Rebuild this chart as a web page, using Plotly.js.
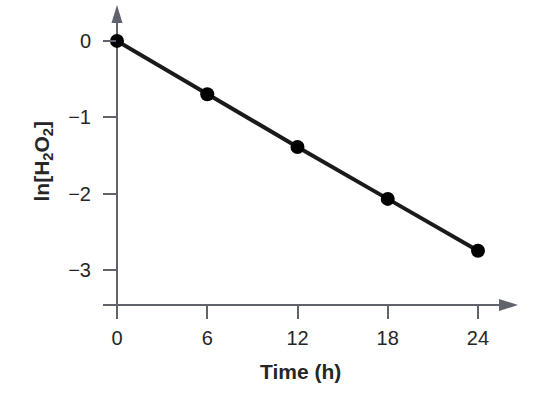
<!DOCTYPE html>
<html>
<head>
<meta charset="utf-8">
<script src="https://cdn.plot.ly/plotly-3.0.1.min.js"></script>
<style>html,body{margin:0;padding:0;background:#fff;}#chart{width:550px;height:393px;}</style>
</head>
<body>
<div id="chart"></div>
<script>
var timeHours = [0, 6, 12, 18, 24];
var lnH2O2 = [0, -0.70, -1.39, -2.07, -2.75];
var xTicks = [0, 6, 12, 18, 24];
var yTicks = [0, -1, -2, -3];
var yTickText = ['0', '\u22121', '\u22122', '\u22123'];

var axisColor = '#60636c';
var textColor = '#262626';
var fontFam = 'Arial, Liberation Sans, sans-serif';

var trace = {
  x: timeHours, y: lnH2O2, type: 'scatter', mode: 'lines+markers',
  line: {color: '#1a1a1a', width: 4},
  marker: {color: '#000', size: 14},
  cliponaxis: false, hoverinfo: 'none'
};

var layout = {
  width: 550, height: 393,
  margin: {l: 117, r: 32, t: 5, b: 88},
  paper_bgcolor: '#fff', plot_bgcolor: '#fff',
  showlegend: false,
  font: {family: fontFam, size: 20, color: textColor},
  xaxis: {
    range: [0, 26.66], tickmode: 'array', tickvals: xTicks, ticktext: xTicks.map(String),
    ticks: 'outside', ticklen: 13, tickwidth: 2, tickcolor: axisColor,
    tickfont: {family: fontFam, size: 20, color: textColor},
    showgrid: false, zeroline: false, showline: false, automargin: false,
    ticklabelstandoff: 2
  },
  yaxis: {
    range: [-3.46, 0.47], tickmode: 'array', tickvals: yTicks, ticktext: yTickText,
    ticks: 'outside', ticklen: 13, tickwidth: 2, tickcolor: axisColor,
    tickfont: {family: fontFam, size: 20, color: textColor},
    showgrid: false, zeroline: false, showline: false, automargin: false,
    ticklabelstandoff: 8
  },
  shapes: [
    {type: 'line', xref: 'paper', yref: 'paper', x0: -0.035, x1: 0.955, y0: 0, y1: 0,
     line: {color: axisColor, width: 2}, layer: 'below'},
    {type: 'line', xref: 'paper', yref: 'paper', x0: 0, x1: 0, y0: 0, y1: 0.945,
     line: {color: axisColor, width: 2}, layer: 'below'},
    {type: 'path', xref: 'paper', yref: 'paper', xsizemode: 'pixel', ysizemode: 'pixel',
     xanchor: 1, yanchor: 0, path: 'M 0 0 L -19 6 L -19 -6 Z',
     fillcolor: axisColor, line: {width: 0}},
    {type: 'path', xref: 'paper', yref: 'paper', xsizemode: 'pixel', ysizemode: 'pixel',
     xanchor: 0, yanchor: 1, path: 'M 0 0 L -5.5 -18 L 5.5 -18 Z',
     fillcolor: axisColor, line: {width: 0}}
  ],
  annotations: [
    {text: '<b>Time (h)</b>', xref: 'x', yref: 'paper', x: 12.2, y: 0, yshift: -66,
     showarrow: false, font: {family: fontFam, size: 21, color: textColor}, xanchor: 'center', yanchor: 'middle'},
    {text: '<b>ln[H<sub>2</sub>O<sub>2</sub>]</b>', xref: 'paper', yref: 'y', x: 0, xshift: -74, y: -1.58,
     textangle: -90, showarrow: false, font: {family: fontFam, size: 21, color: textColor}, xanchor: 'center', yanchor: 'middle'}
  ]
};

Plotly.newPlot('chart', [trace], layout, {staticPlot: true, displayModeBar: false});
</script>
</body>
</html>
